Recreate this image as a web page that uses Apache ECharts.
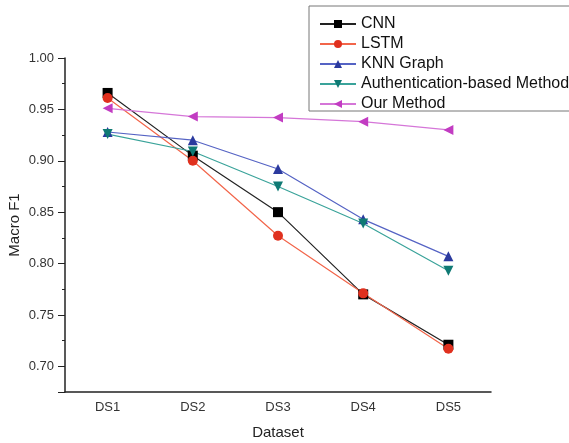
<!DOCTYPE html>
<html>
<head>
<meta charset="utf-8">
<script src="https://cdn.jsdelivr.net/npm/echarts@6/dist/echarts.min.js"></script>
<style>
  html, body { margin: 0; padding: 0; background: #fff; }
  #chart { width: 569px; height: 443px; }
</style>
</head>
<body>
<div id="chart"></div>
<script>
// data
const categories = ['DS1', 'DS2', 'DS3', 'DS4', 'DS5'];
const cnn = [0.966, 0.905, 0.850, 0.770, 0.721];
const lstm = [0.961, 0.900, 0.827, 0.771, 0.717];
const knnGraph = [0.928, 0.920, 0.892, 0.843, 0.807];
const authMethod = [0.926, 0.909, 0.875, 0.839, 0.793];
const ourMethod = [0.951, 0.943, 0.942, 0.938, 0.930];

const font = 'Liberation Sans, Arial, sans-serif';

const chart = echarts.init(document.getElementById('chart'));

function line(name, data, color, lineColor, symbol, rotate) {
    return {
        name: name,
        type: 'line',
        data: data,
        symbol: symbol,
        symbolSize: 10,
        symbolRotate: rotate || 0,
        itemStyle: { color: color },
        lineStyle: { color: lineColor, width: 1.2 },
        z: 3
    };
}

const option = {
    animation: false,
    textStyle: { fontFamily: font },
    grid: { left: 65, right: 78, top: 58, bottom: 51, outerBoundsMode: 'none', containLabel: false },
    graphic: [{
        type: 'rect',
        shape: { x: 309, y: 6, width: 300, height: 105 },
        style: { fill: '#fff', stroke: '#777', lineWidth: 1 },
        z: 10
    }],
    legend: {
        orient: 'vertical',
        left: 314,
        top: 11,
        itemWidth: 36,
        itemHeight: 10,
        itemGap: 4,
        z: 11,
        textStyle: { fontSize: 16, color: '#111', fontFamily: font },
        data: ['CNN', 'LSTM', 'KNN Graph', 'Authentication-based Method', 'Our Method']
    },
    xAxis: [{
        type: 'category',
        data: categories,
        position: 'bottom',
        boundaryGap: true,
        name: 'Dataset',
        nameLocation: 'middle',
        nameGap: 33,
        nameMoveOverlap: false,
        nameTextStyle: { fontSize: 15, color: '#222' },
        axisLine: { lineStyle: { color: '#222', width: 1.5 } },
        axisTick: { alignWithLabel: true, length: 5, lineStyle: { color: '#222' } },
        axisLabel: { fontSize: 13, color: '#333', margin: 9 },
        splitLine: { show: false }
    }, {
        type: 'category',
        data: categories,
        position: 'bottom',
        boundaryGap: true,
        axisLine: { show: false },
        axisTick: { length: 3, lineStyle: { color: '#222' } },
        axisLabel: { show: false },
        splitLine: { show: false }
    }],
    yAxis: [{
        type: 'value',
        position: 'left',
        min: 0.675,
        max: 1.0,
        interval: 0.025,
        name: 'Macro F1',
        nameLocation: 'middle',
        nameGap: 43,
        nameMoveOverlap: false,
        nameTextStyle: { fontSize: 15, color: '#222' },
        axisLine: { show: true, lineStyle: { color: '#222', width: 1.5 } },
        axisTick: { show: true, length: 3, lineStyle: { color: '#222' } },
        axisLabel: {
            fontSize: 13,
            color: '#333',
            margin: 11,
            formatter: function (v) {
                return Math.round(v * 1000) % 50 === 0 ? v.toFixed(2) : '';
            }
        },
        splitLine: { show: false }
    }, {
        type: 'value',
        position: 'left',
        min: 0.675,
        max: 1.0,
        splitNumber: 6,
        axisLine: { show: false },
        axisTick: { show: true, length: 7, lineStyle: { color: '#222' } },
        axisLabel: { show: false },
        splitLine: { show: false }
    }],
    series: [
        line('CNN', cnn, '#000000', '#222222', 'rect'),
        line('LSTM', lstm, '#e0301e', '#f2654a', 'circle'),
        line('KNN Graph', knnGraph, '#2b3a9e', '#5563c4', 'triangle'),
        line('Authentication-based Method', authMethod, '#0f7a74', '#3aa39a', 'triangle', 180),
        line('Our Method', ourMethod, '#c23cc2', '#d576d8', 'triangle', 90)
    ]
};

chart.setOption(option);
</script>
</body>
</html>
